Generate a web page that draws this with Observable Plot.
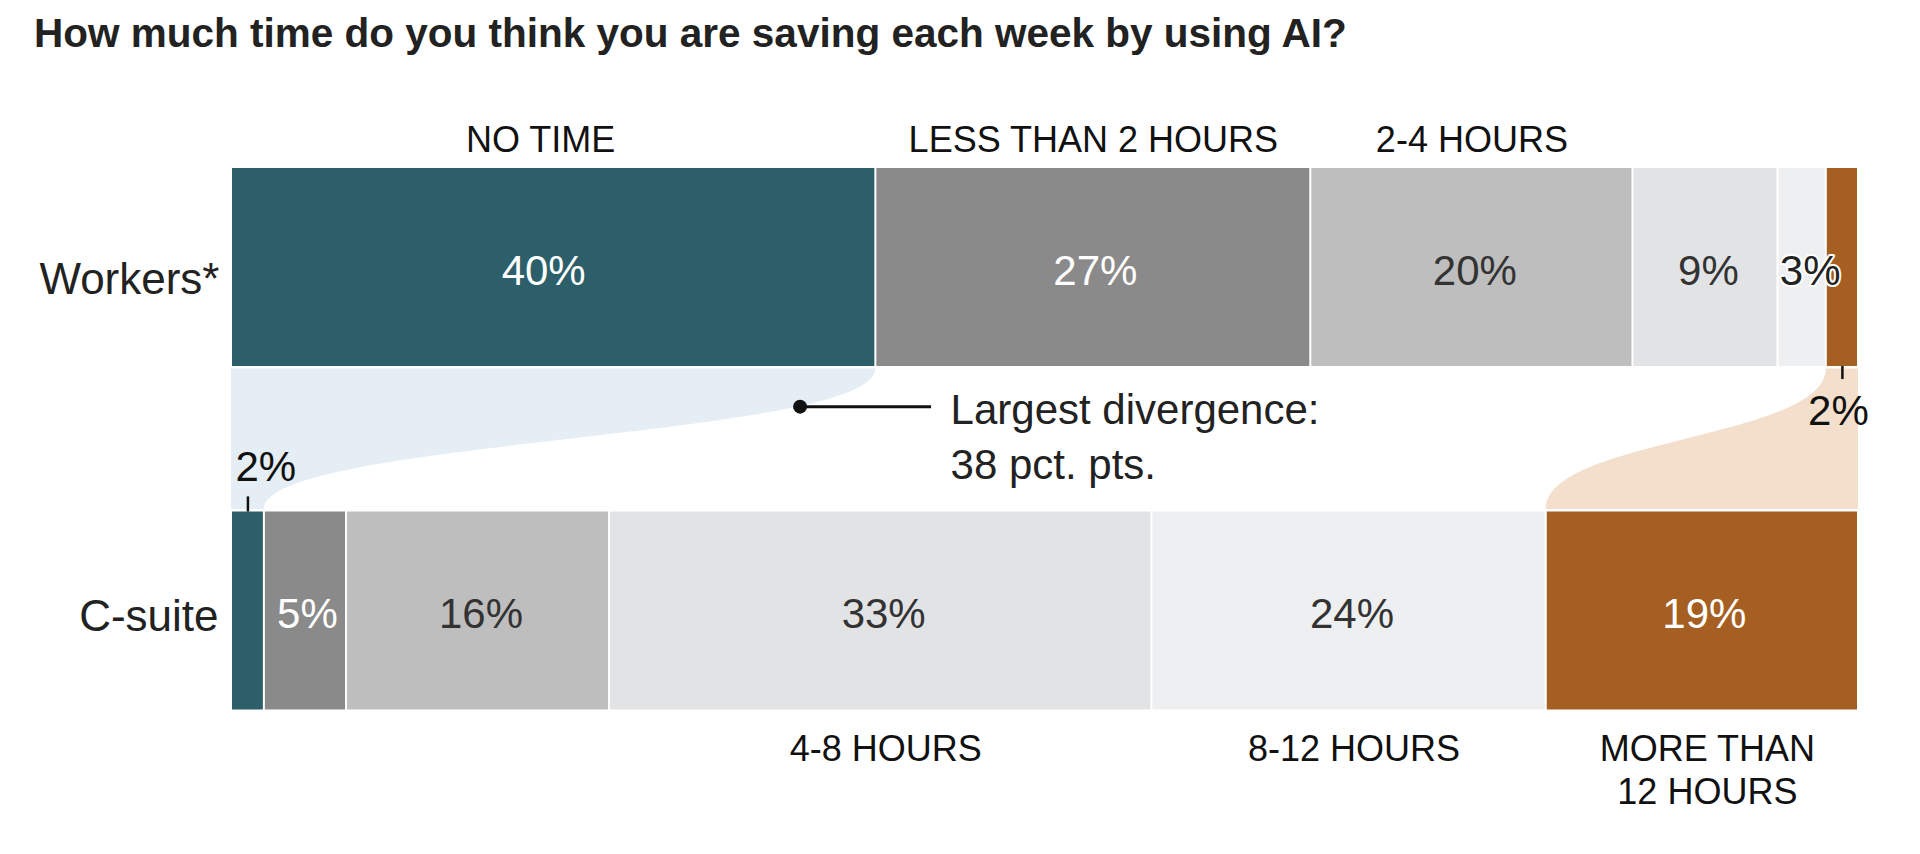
<!DOCTYPE html>
<html>
<head>
<meta charset="utf-8">
<script src="https://cdn.jsdelivr.net/npm/d3@7"></script>
<script src="https://cdn.jsdelivr.net/npm/@observablehq/plot@0.6"></script>
<style>
  html, body { margin: 0; padding: 0; background: #fff; }
  #title {
    box-sizing: border-box; height: 80px; margin: 0; padding: 13px 0 0 34px;
    font: bold 40.5px/1 "Liberation Sans", Arial, sans-serif; color: #222; white-space: nowrap;
  }
</style>
</head>
<body>
<div id="title">How much time do you think you are saving each week by using AI?</div>
<div id="chart"></div>
<script>
// ---- data ----
const groups = ["Workers*", "C-suite"];
const categories = ["NO TIME", "LESS THAN 2 HOURS", "2-4 HOURS", "4-8 HOURS", "8-12 HOURS", "MORE THAN\n12 HOURS"];
const workers = [40, 27, 20, 9, 3, 2];
const csuite = [2, 5, 16, 33, 24, 19];
const annotationText = "Largest divergence:\n38 pct. pts.";

// ---- styles ----
const palette = ["#2c5f6a", "#8a8a8a", "#bebebe", "#e2e3e5", "#eeeff1", "#a65f22"];
const flowTealColor = "#e4eef4";
const flowBrownColor = "#f3dfcc";
const font = "'Liberation Sans', Arial, sans-serif";

// ---- layout constants (row units) ----
const H = 0.2882;   // half bar thickness
const G = 0.0073;   // gap between bars and flows

// ---- table (normalized stacks) ----
const seriesValues = [workers, csuite];
const table = groups.flatMap((g, row) => {
  const vals = seriesValues[row];
  const total = d3.sum(vals);
  let acc = 0;
  return vals.map((v, i) => {
    const x1 = acc / total; acc += v; const x2 = acc / total;
    return {group: g, row, i, cat: categories[i], value: v, x1, x2, xm: (x1 + x2) / 2};
  });
});
const w = table.filter(d => d.row === 0);
const c = table.filter(d => d.row === 1);

const yTop = 0 + H + G, yBot = 1 - H - G;
const flowTeal = [{y: yTop, x1: 0, x2: w[0].x2}, {y: yBot, x1: 0, x2: c[0].x2}];
const flowBrown = [{y: yTop, x1: w[5].x1, x2: 1}, {y: yBot, x1: c[5].x1, x2: 1}];

// point on the teal flow's curved edge (bump-y cubic)
const t = 0.22, u = 1 - t, ym = (yTop + yBot) / 2;
const pt = {
  x: w[0].x2 * (u*u*u + 3*u*u*t) + c[0].x2 * (3*u*t*t + t*t*t),
  y: yTop * u*u*u + ym * (3*u*u*t + 3*u*t*t) + yBot * t*t*t,
  text: annotationText
};

const isOutside = d => (d.row === 0 && d.i === 5) || (d.row === 1 && d.i === 0);
const isNarrow = d => d.row === 0 && d.i === 4;
const isFirstWide = d => d.row === 0 && d.i === 0;
const whiteText = d => [0, 1, 5].includes(d.i);
const inside = table.filter(d => !isOutside(d) && !isNarrow(d) && !isFirstWide(d));

const plot = Plot.plot({
  width: 1920,
  height: 774,
  margin: 0,
  x: {domain: [0, 1], range: [231, 1858], axis: null},
  y: {domain: [0, 1], range: [187, 530.5], axis: null},
  color: {domain: categories, range: palette},
  style: {fontFamily: font, background: "#fff", overflow: "visible"},
  marks: [
    Plot.areaX(flowTeal, {y: "y", x1: "x1", x2: "x2", curve: "bump-y", fill: flowTealColor}),
    Plot.areaX(flowBrown, {y: "y", x1: "x1", x2: "x2", curve: "bump-y", fill: flowBrownColor}),
    Plot.rect(table, {x1: "x1", x2: "x2", y1: d => d.row - H, y2: d => d.row + H, fill: "cat", insetLeft: 1, insetRight: 1}),
    // value labels inside bars
    Plot.text(table.filter(isFirstWide), {x: "xm", y: "row", text: d => d.value + "%", fill: "#fff", fontSize: 42, dy: 4, dx: -10}),
    Plot.text(inside.filter(whiteText), {x: "xm", y: "row", text: d => d.value + "%", fill: "#fff", fontSize: 42, dy: 4, dx: 2}),
    Plot.text(inside.filter(d => !whiteText(d)), {x: "xm", y: "row", text: d => d.value + "%", fill: "#333", fontSize: 42, dy: 4, dx: 3}),
    Plot.text(table.filter(isNarrow), {x: "xm", y: "row", text: d => d.value + "%", fill: "#222", stroke: "#fff", strokeWidth: 4, paintOrder: "stroke", fontSize: 42, dy: 4, dx: 8}),
    // outside small labels with ticks
    Plot.ruleX([w[5]], {x: "xm", y1: d => d.row + H, y2: d => d.row + H + 0.038, stroke: "#111", strokeWidth: 2.5}),
    Plot.text([w[5]], {x: "xm", y: d => d.row + H, text: d => d.value + "%", lineAnchor: "top", dy: 29, dx: -4, fontSize: 42, fill: "#111"}),
    Plot.ruleX([c[0]], {x: "xm", y1: d => d.row - H - 0.044, y2: d => d.row - H, stroke: "#111", strokeWidth: 2.5}),
    Plot.text([c[0]], {x: "x1", y: d => d.row - H, text: d => d.value + "%", textAnchor: "start", lineAnchor: "bottom", dy: -31, dx: 4, fontSize: 42, fill: "#111"}),
    // category labels
    Plot.text(w.slice(0, 1), {x: "xm", y: d => d.row - H, text: "cat", lineAnchor: "bottom", dy: -17, dx: -13, fontSize: 36, fill: "#111"}),
    Plot.text(w.slice(1, 3), {x: "xm", y: d => d.row - H, text: "cat", lineAnchor: "bottom", dy: -17, fontSize: 36, fill: "#111"}),
    Plot.text(c.slice(3), {x: "xm", y: d => d.row + H, text: "cat", lineAnchor: "top", lineHeight: 1.2, dy: 20, dx: 5, fontSize: 36, fill: "#111"}),
    // row labels
    Plot.text(groups.slice(0, 1), {x: () => 0, y: () => 0, text: d => d, textAnchor: "end", dx: -12, dy: 12, fontSize: 44, fill: "#222"}),
    Plot.text(groups.slice(1), {x: () => 0, y: () => 1, text: d => d, textAnchor: "end", dx: -13, dy: 6, fontSize: 44, fill: "#222"}),
    // annotation
    Plot.link([pt], {x1: "x", y1: "y", x2: d => d.x + 0.0805, y2: "y", stroke: "#111", strokeWidth: 3}),
    Plot.dot([pt], {x: "x", y: "y", r: 7, fill: "#111"}),
    Plot.text([pt], {x: d => d.x + 0.0925, y: "y", text: "text", textAnchor: "start", lineAnchor: "top", lineHeight: 1.31, fontSize: 42, dy: -22, fill: "#222"})
  ]
});
document.getElementById("chart").appendChild(plot);
</script>
</body>
</html>
